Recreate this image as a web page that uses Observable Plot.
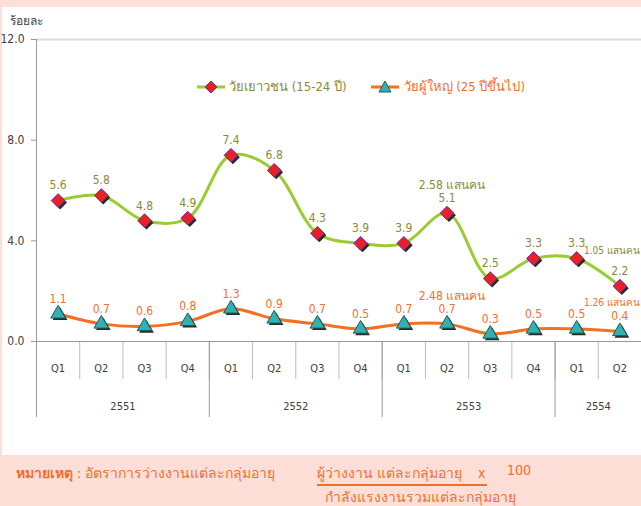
<!DOCTYPE html>
<html>
<head>
<meta charset="utf-8">
<script src="https://cdn.jsdelivr.net/npm/d3@7"></script>
<script src="https://cdn.jsdelivr.net/npm/@observablehq/plot@0.6"></script>
<style>
  html, body { margin: 0; padding: 0; }
  body { width: 641px; height: 506px; background: #fddfd7; position: relative; overflow: hidden;
         font-family: Tahoma, "DejaVu Sans Condensed", "DejaVu Sans", "Noto Sans", sans-serif; }
  #panel { position: absolute; left: 2px; top: 7px; width: 639px; height: 448px; background: #fff; }
  #chart { position: absolute; left: 0; top: 0; }
  #ylab { position: absolute; left: 10px; top: 13px; font-size: 12px; line-height: 16px; color: #404040; }
  #legend { position: absolute; left: 197px; top: 76px; font-size: 13px; display: flex; align-items: center; }
  #legend .item { display: flex; align-items: center; margin-right: 0; }
  #note { position: absolute; left: 16px; top: 462px; font-size: 14px; color: #f07030; }
</style>
</head>
<body>
<div id="panel"></div>
<div id="chart"></div>
<div id="ylab">ร้อยละ</div>
<div id="legend"></div>
<div id="note"></div>
<script>
// ---- data ----
const quarters = ["Q1","Q2","Q3","Q4","Q1","Q2","Q3","Q4","Q1","Q2","Q3","Q4","Q1","Q2"];
const years    = ["2551","2551","2551","2551","2552","2552","2552","2552","2553","2553","2553","2553","2554","2554"];
const youth    = [5.6, 5.8, 4.8, 4.9, 7.4, 6.8, 4.3, 3.9, 3.9, 5.1, 2.5, 3.3, 3.3, 2.2];
const adult    = [1.1, 0.7, 0.6, 0.8, 1.3, 0.9, 0.7, 0.5, 0.7, 0.7, 0.3, 0.5, 0.5, 0.4];
const yTicks   = [0, 4, 8, 12];
const seriesNames = ["วัยเยาวชน (15-24 ปี)", "วัยผู้ใหญ่ (25 ปีขึ้นไป)"];
const annotIndex  = [9, 9, 13, 13];
const annotSeries = ["youth", "adult", "youth", "adult"];
const annotText   = ["2.58 แสนคน", "2.48 แสนคน", "1.05 แสนคน", "1.26 แสนคน"];

// ---- styles ----
const GREEN = "#99cc33", OLIVE = "#8a8a3c", ORANGE = "#f36f21", ORANGE_T = "#f07030";
const RED = "#e8202a", PURPLE = "#7030a0", TEAL = "#33b1b1", TEAL_S = "#1d5c5c";

const rows = quarters.map((q, i) => ({i, q, year: years[i], youth: youth[i], adult: adult[i]}));
const yearGroups = d3.groups(rows, d => d.year).map(([year, ds]) => ({
  year, center: d3.mean(ds, d => d.i), start: d3.min(ds, d => d.i) - 0.5
}));
const yearCenterLabel = new Map(yearGroups.map(g => [g.center, g.year]));
const quarterBounds = rows.slice(1).map(d => d.i - 0.5);
const yearBounds = yearGroups.map(g => g.start);

const annots = annotIndex.map((idx, k) => {
  const s = annotSeries[k];
  return {i: idx, v: rows[idx][s], text: annotText[k], s, last: idx === rows.length - 1};
});
const pick = (s, last) => annots.filter(d => d.s === s && d.last === last);

const fontFamily = 'Tahoma, "DejaVu Sans Condensed", "DejaVu Sans", "Noto Sans", sans-serif';

const chart = Plot.plot({
  width: 641, height: 455,
  marginLeft: 36, marginRight: 0, marginTop: 39, marginBottom: 114,
  x: {domain: [-0.5, 13.5], axis: null},
  y: {domain: [0, 12], axis: null},
  style: {background: "transparent", fontFamily, color: "#404040"},
  marks: [
    Plot.ruleY([12], {stroke: "#dcdcdc", strokeWidth: 2}),
    Plot.axisY({ticks: yTicks, tickFormat: d => d.toFixed(1), tickSize: 5, tickPadding: 7,
                fontSize: 12, stroke: "#999", label: null}),
    Plot.ruleX([-0.5], {stroke: "#999"}),
    Plot.axisX({ticks: quarterBounds, tickSize: 38, tickFormat: () => "", stroke: "#bdbdbd", label: null}),
    Plot.axisX({ticks: yearBounds, tickSize: 76, tickFormat: () => "", stroke: "#999", label: null}),
    Plot.ruleY([0], {stroke: "#999"}),
    Plot.axisX({ticks: rows.map(d => d.i), tickSize: 0, tickPadding: 23,
                tickFormat: i => quarters[i], fontSize: 11, label: null}),
    Plot.axisX({ticks: yearGroups.map(g => g.center), tickSize: 0, tickPadding: 61,
                tickFormat: c => yearCenterLabel.get(c), fontSize: 11, label: null}),
    // lines
    Plot.line(rows, {x: "i", y: "youth", curve: "catmull-rom", stroke: GREEN, strokeWidth: 3}),
    Plot.line(rows, {x: "i", y: "adult", curve: "catmull-rom", stroke: ORANGE, strokeWidth: 3}),
    // marker shadows
    Plot.dot(rows, {x: "i", y: "youth", symbol: "diamond2", r: 6.2, fill: "#2a2a2a", dx: 2, dy: 2}),
    Plot.dot(rows, {x: "i", y: "adult", symbol: "triangle2", r: 7, fill: "#2a2a2a", dx: 2, dy: 2}),
    // markers
    Plot.dot(rows, {x: "i", y: "youth", symbol: "diamond2", r: 6.2, fill: RED, stroke: PURPLE, strokeWidth: 1}),
    Plot.dot(rows, {x: "i", y: "adult", symbol: "triangle2", r: 7, fill: TEAL, stroke: TEAL_S, strokeWidth: 1}),
    // value labels
    Plot.text(rows, {x: "i", y: "youth", text: d => d.youth.toFixed(1), dy: -15, fill: OLIVE, fontSize: 12}),
    Plot.text(rows, {x: "i", y: "adult", text: d => d.adult.toFixed(1), dy: -15, fill: ORANGE_T, fontSize: 12}),
    // annotations
    Plot.text(pick("youth", false), {x: "i", y: "v", text: "text", dx: 5, dy: -28, fill: OLIVE, fontSize: 12}),
    Plot.text(pick("adult", false), {x: "i", y: "v", text: "text", dx: 5, dy: -28, fill: ORANGE_T, fontSize: 12}),
    Plot.text(pick("youth", true), {x: "i", y: "v", text: "text", textAnchor: "end", dx: 20, dy: -35, fill: OLIVE, fontSize: 10}),
    Plot.text(pick("adult", true), {x: "i", y: "v", text: "text", textAnchor: "end", dx: 20, dy: -29, fill: ORANGE_T, fontSize: 10})
  ]
});
document.getElementById("chart").appendChild(chart);

// legend
function swatch(lineColor, shape) {
  const s = d3.create("svg").attr("width", 28).attr("height", 16);
  s.append("line").attr("x1", 0).attr("x2", 28).attr("y1", 8).attr("y2", 8)
    .attr("stroke", lineColor).attr("stroke-width", 3);
  if (shape === "diamond") {
    s.append("path").attr("d", "M14,2 L20,8 L14,14 L8,8 Z").attr("fill", RED).attr("stroke", PURPLE);
  } else {
    s.append("path").attr("d", "M14,2 L20,13 L8,13 Z").attr("fill", TEAL).attr("stroke", TEAL_S);
  }
  return s.node();
}
const legend = d3.select("#legend");
const it1 = legend.append("div").attr("class", "item");
it1.node().appendChild(swatch(GREEN, "diamond"));
it1.append("span").style("color", OLIVE).style("margin-left", "4px").style("margin-right", "24px").text(seriesNames[0]);
const it2 = legend.append("div").attr("class", "item");
it2.node().appendChild(swatch(ORANGE, "triangle"));
it2.append("span").style("color", ORANGE_T).style("margin-left", "5px").text(seriesNames[1]);

// footnote
document.getElementById("note").innerHTML =
  '<div style="position:absolute;left:0;top:0;white-space:nowrap"><b>หมายเหตุ</b> : อัตราการว่างงานแต่ละกลุ่มอายุ</div>' +
  '<div style="position:absolute;left:301px;top:0;white-space:nowrap;border-bottom:2px solid #f36f21;padding-right:2px">ผู้ว่างงาน แต่ละกลุ่มอายุ&nbsp;&nbsp;&nbsp;&nbsp;x</div>' +
  '<div style="position:absolute;left:491px;top:0;white-space:nowrap">100</div>' +
  '<div style="position:absolute;left:309px;top:24px;white-space:nowrap">กำลังแรงงานรวมแต่ละกลุ่มอายุ</div>';
</script>
</body>
</html>
